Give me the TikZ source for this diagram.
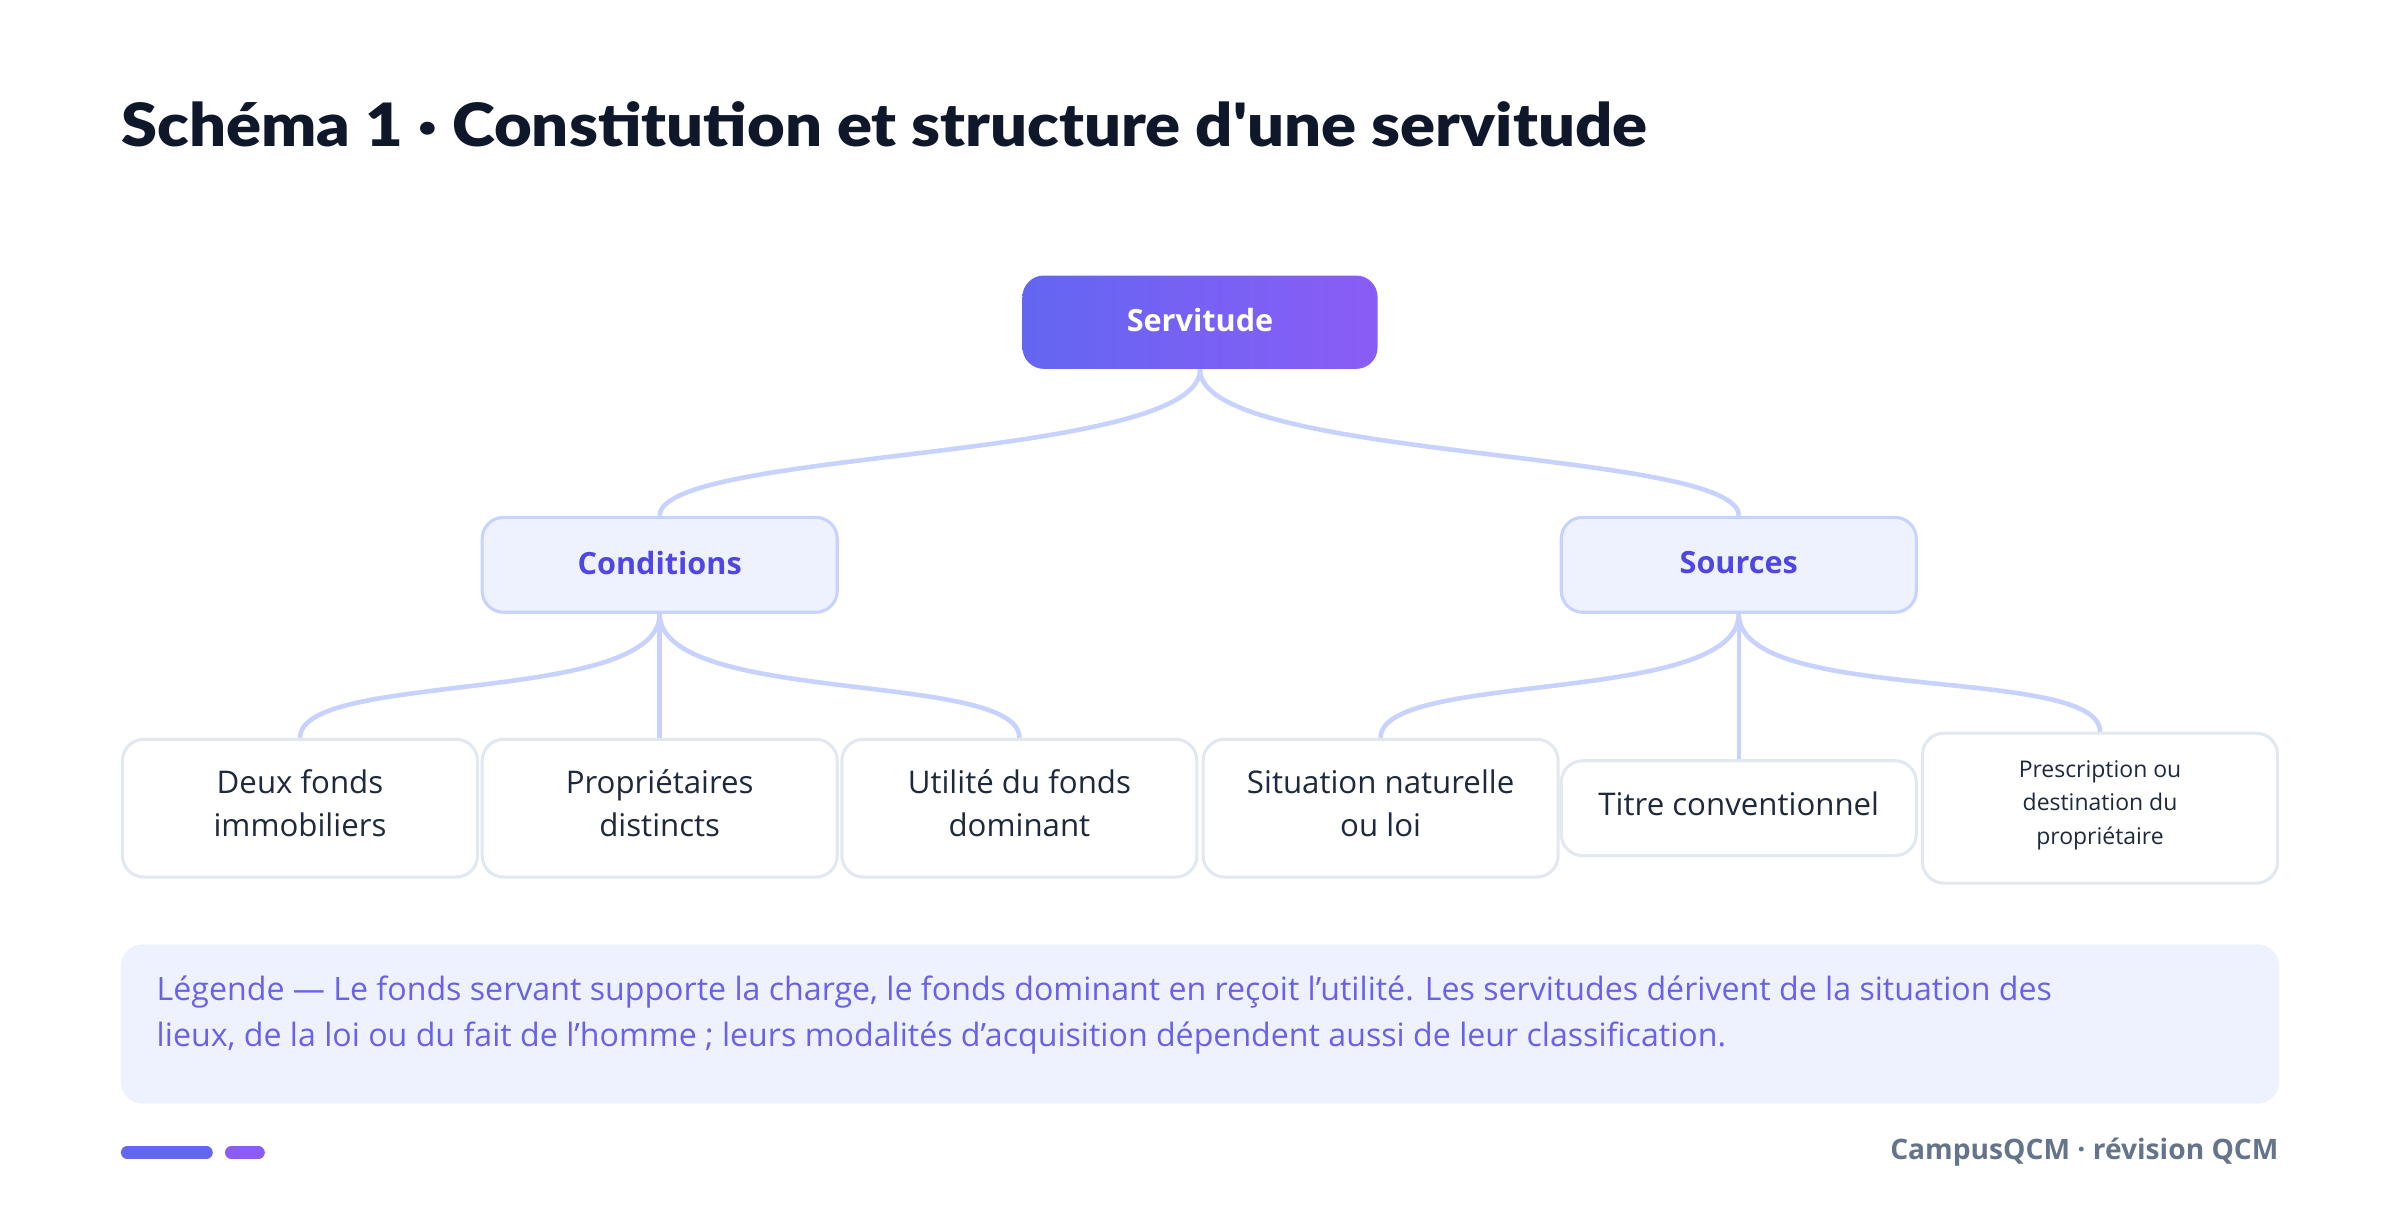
\documentclass[tikz,border=0pt]{standalone}
\usepackage{fontspec}
\setmainfont{Open Sans}
\newfontfamily\titlefont{Lato}[BoldFont={* Black}]
\newcommand\aq{\char"0027\relax}
\definecolor{indA}{HTML}{6366F1}
\definecolor{indB}{HTML}{8B5CF6}
\definecolor{pale}{HTML}{EEF2FF}
\definecolor{paleB}{HTML}{C7D2FE}
\definecolor{indT}{HTML}{4F46E5}
\definecolor{leafB}{HTML}{E2E8F0}
\definecolor{ink}{HTML}{0F172A}
\definecolor{ink2}{HTML}{1E293B}
\definecolor{slate}{HTML}{64748B}
\begin{document}
\begin{tikzpicture}[x=0.5pt,y=-0.5pt,
  root/.style={rounded corners=7pt,minimum width=116pt,minimum height=30.5pt,left color=indA,right color=indB,draw=none,text=white,font=\fontsize{10}{12}\selectfont\bfseries},
  mid/.style={rounded corners=7pt,minimum width=116pt,minimum height=31pt,fill=pale,draw=paleB,line width=1pt,text=indT,font=\fontsize{10}{12}\selectfont\bfseries},
  leaf/.style={rounded corners=7pt,minimum width=116pt,minimum height=45pt,fill=white,draw=leafB,line width=1pt},
  lt/.style={text=ink2,align=center,inner sep=0,font=\fontsize{10.2}{14}\selectfont},
  link/.style={draw=paleB,line width=1.5pt}]
\useasboundingbox (0,0) rectangle (1568,793);
\node[anchor=base west,text=ink,inner sep=0,xscale=1.09,font=\titlefont\fontsize{19.5}{20}\selectfont\bfseries] (title) at (79,96) {Schéma 1 · Constitution et structure d\aq une servitude};
\node[root] (serv) at (784,210.5) {\raisebox{1.5pt}{Servitude}};
\node[mid] (cond) at (431,369) {\raisebox{1.5pt}{Conditions}};
\node[mid] (src) at (1136,369) {\raisebox{1.5pt}{Sources}};
\node[leaf] (l1) at (196,528) {};
\node[leaf] (l2) at (431,528) {};
\node[leaf] (l3) at (666,528) {};
\node[leaf] (l4) at (902,528) {};
\node[leaf,minimum height=31pt] (l5) at (1136,528) {};
\node[leaf,minimum height=49pt] (l6) at (1372,528) {};
\node[lt] (t1) at (196,525) {Deux fonds\\immobiliers};
\node[lt] (t2) at (431,525) {Propriétaires\\distincts};
\node[lt] (t3) at (666,525) {Utilité du fonds\\dominant};
\node[lt] (t4) at (902,525) {Situation naturelle\\ou loi};
\node[lt] (t5) at (1136,525) {Titre conventionnel};
\node[lt,font=\fontsize{7.5}{11}\selectfont] (t6) at (1372,526) {Prescription ou\\destination du\\propriétaire};
\foreach \a/\b in {serv/cond,serv/src,cond/l1,cond/l3,src/l4,src/l6}
  \draw[link] (\a.south) .. controls ([yshift=-30pt]\a.south) and ([yshift=22pt]\b.north) .. (\b.north);
\draw[link] (cond.south) -- (l2.north);
\draw[link] (src.south) -- (l5.north);
\node[fill=pale,rounded corners=7pt,minimum width=705pt,minimum height=52pt,draw=none] (leg) at (784,669) {};
\node[anchor=north west,inner sep=0,align=left,text=indT!85!white,font=\fontsize{10.5}{15}\selectfont] (legt) at (102,637) {Légende — Le fonds servant supporte la charge, le fonds dominant en reçoit l\aq utilité. Les servitudes dérivent de la situation des\\lieux, de la loi ou du fait de l\aq homme ; leurs modalités d\aq acquisition dépendent aussi de leur classification.};
\draw[indA,line width=4pt,line cap=round] (83,753) -- (135,753);
\draw[indB,line width=4pt,line cap=round] (151,753) -- (169,753);
\node[anchor=east,inner sep=0,text=slate,font=\fontsize{9.2}{11}\selectfont\bfseries] (foot) at (1489,753) {CampusQCM · révision QCM};
\end{tikzpicture}
\end{document}
